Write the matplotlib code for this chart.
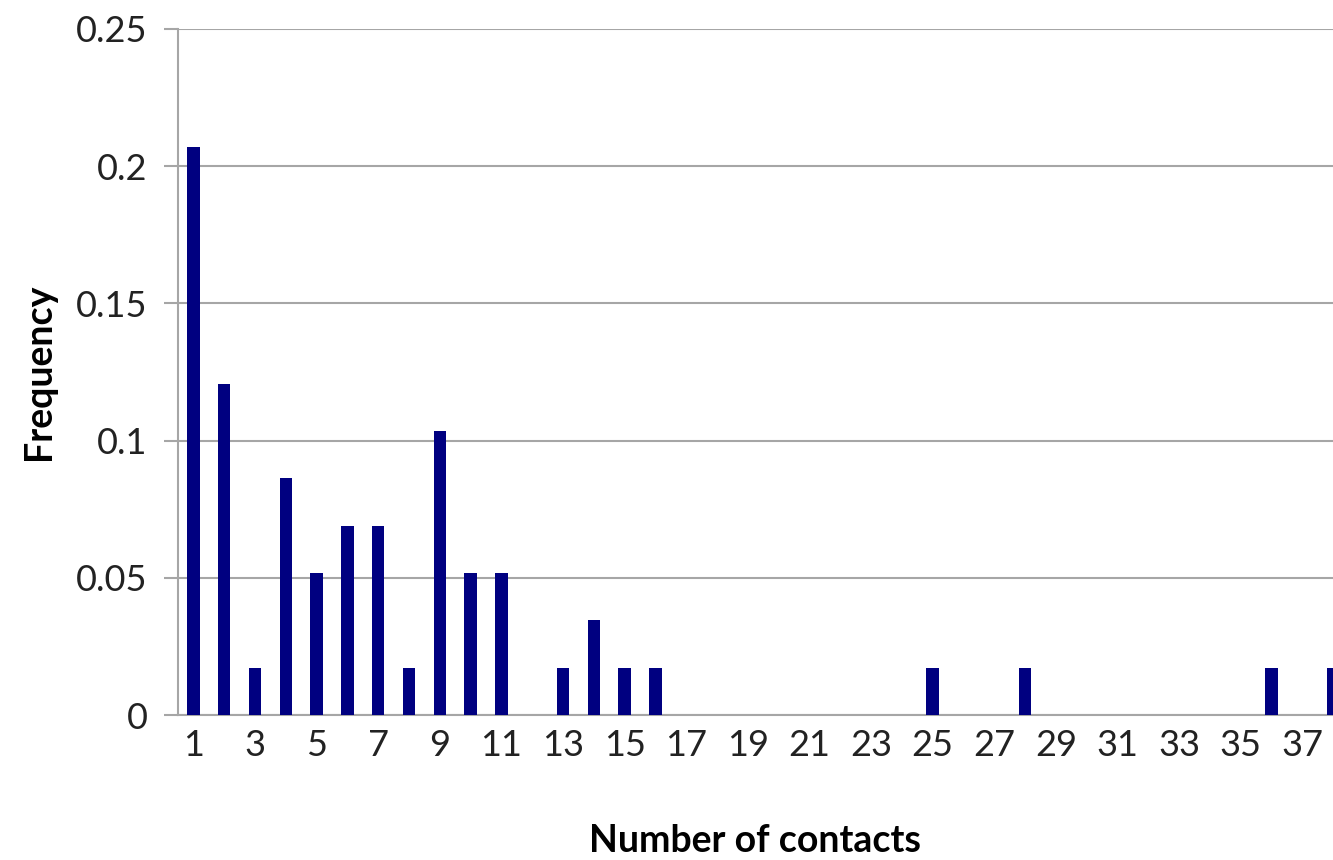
import matplotlib
matplotlib.use('Agg')
from matplotlib import pyplot as plt

# contacts 1..38, frequencies out of 58 people
contacts = list(range(1, 39))
counts = [12, 7, 1, 5, 3, 4, 4, 1, 6, 3, 3, 0, 1, 2, 1, 1, 0, 0, 0, 0,
          0, 0, 0, 0, 1, 0, 0, 1, 0, 0, 0, 0, 0, 0, 0, 1, 0, 1]
total = 58
frequency = [c / total for c in counts]
tick_labels = [str(n) for n in range(1, 38, 2)]

plt.rcParams['font.family'] = ['Lato', 'DejaVu Sans']

fig = plt.figure(figsize=(13.33, 8.6), dpi=100)
ax = fig.add_axes([0.1335, 0.1686, 0.8665, 0.7977])

ax.bar(contacts, frequency, width=0.4, color='#000080', zorder=3)

ax.set_xlim(0.5, 38.0)
ax.set_ylim(0, 0.25)
ax.set_yticks([0, 0.05, 0.1, 0.15, 0.2, 0.25])
ax.set_yticklabels(['0', '0.05', '0.1', '0.15', '0.2', '0.25'])
ax.set_xticks(range(1, 38, 2))
ax.set_xticklabels(tick_labels)

ax.grid(axis='y', color='#a6a6a6', linewidth=1.5, zorder=0)
for side in ['top', 'right']:
    ax.spines[side].set_visible(False)
for side in ['left', 'bottom']:
    ax.spines[side].set_color('#a6a6a6')
    ax.spines[side].set_linewidth(1.5)

ax.tick_params(axis='y', length=10, width=1.5, color='#a6a6a6',
               labelsize=26, pad=12, labelcolor='#222222')
ax.tick_params(axis='x', length=0, labelsize=26, pad=10, labelcolor='#222222')

ax.set_ylabel('Frequency', fontsize=27, fontweight='bold', labelpad=14)
ax.set_xlabel('Number of contacts', fontsize=27, fontweight='bold', labelpad=45)

plt.savefig('out.png', dpi=100)
